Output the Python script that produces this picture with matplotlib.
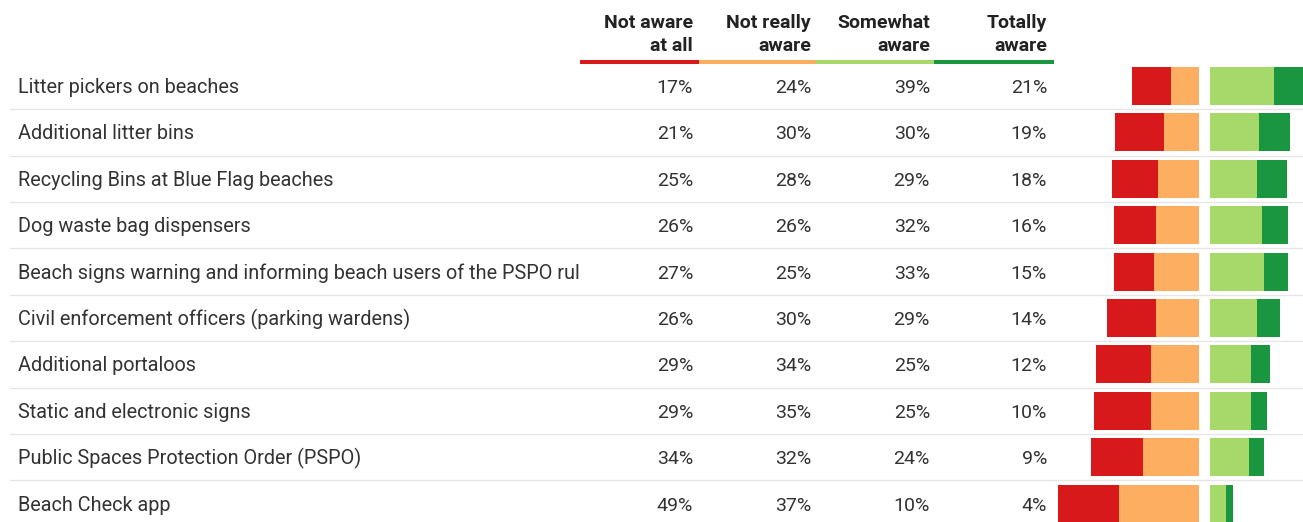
import matplotlib
matplotlib.use('Agg')
import matplotlib.pyplot as plt

plt.rcParams['font.family'] = ['Roboto', 'DejaVu Sans']

labels = [
    'Litter pickers on beaches',
    'Additional litter bins',
    'Recycling Bins at Blue Flag beaches',
    'Dog waste bag dispensers',
    'Beach signs warning and informing beach users of the PSPO rules',
    'Civil enforcement officers (parking wardens)',
    'Additional portaloos',
    'Static and electronic signs',
    'Public Spaces Protection Order (PSPO)',
    'Beach Check app',
]
headers = ['Not aware\nat all', 'Not really\naware', 'Somewhat\naware', 'Totally\naware']
not_aware = [17, 21, 25, 26, 27, 26, 29, 29, 34, 49]
not_really = [24, 30, 28, 26, 25, 30, 34, 35, 32, 37]
somewhat = [39, 30, 29, 32, 33, 29, 25, 25, 24, 10]
totally = [21, 19, 18, 16, 15, 14, 12, 10, 9, 4]

RED = '#d7191c'
ORANGE = '#fdae61'
LGREEN = '#a6d96a'
DGREEN = '#1a9641'

W, H = 1303, 522
ROW0, ROWH = 86, 46.4
PX_PER_PCT = 1.63
CENTER = 1198.5
GAP = 11.5 / PX_PER_PCT
FS = 14

fig = plt.figure(figsize=(W / 100, H / 100), dpi=100)
ax = fig.add_axes([0, 0, 1, 1])
ax.set_xlim(0, W)
ax.set_ylim(H, 0)
ax.axis('off')

n = len(labels)
rows = [ROW0 + i * ROWH for i in range(n)]

# row separators
for y in rows[:-1]:
    ax.plot([10, W], [y + ROWH / 2, y + ROWH / 2], color='#e6e6e6', lw=1, zorder=1)

# header with coloured underline
col_right = [693, 811, 930, 1047]
seg_edges = [580, 699, 816, 934, 1054]
for i, (h, c) in enumerate(zip(headers, [RED, ORANGE, LGREEN, DGREEN])):
    top, bottom = h.split('\n')
    ax.text(col_right[i], 28, top, ha='right', va='baseline', fontsize=FS,
            fontweight='bold', color='#222222')
    ax.text(col_right[i], 51, bottom, ha='right', va='baseline', fontsize=FS,
            fontweight='bold', color='#222222')
    ax.plot([seg_edges[i], seg_edges[i + 1]], [62, 62], color=c, lw=2.9,
            solid_capstyle='butt')

# percentages
for i, y in enumerate(rows):
    for x, vals in zip(col_right, [not_aware, not_really, somewhat, totally]):
        ax.text(x, y + 7, f'{vals[i]}%', ha='right', va='baseline',
                fontsize=FS, color='#333333')

# labels, clipped at the table column
lab_ax = fig.add_axes([0, 0, 579 / W, 1])
lab_ax.set_xlim(0, 579)
lab_ax.set_ylim(H, 0)
lab_ax.axis('off')
for lab, y in zip(labels, rows):
    lab_ax.text(18, y + 7, lab, ha='left', va='baseline', fontsize=14.3,
                color='#333333', clip_on=True)

# diverging bars
top_px = ROW0 - ROWH / 2
bot_px = ROW0 + (n - 0.5) * ROWH
bax = fig.add_axes([1050 / W, (H - bot_px) / H, (W - 1050) / W, (bot_px - top_px) / H])
bax.set_xlim(-(CENTER - 1050) / PX_PER_PCT, (W - CENTER) / PX_PER_PCT)
bax.set_ylim(n - 0.5, -0.5)
bax.axis('off')
idx = list(range(n))
bh = 38 / ROWH
neg_inner = [-v for v in not_aware]
neg_outer = [-(a + b) for a, b in zip(not_aware, not_really)]
bax.barh(idx, not_aware, left=neg_inner, height=bh, color=ORANGE, lw=0)
bax.barh(idx, not_really, left=neg_outer, height=bh, color=RED, lw=0)
bax.barh(idx, somewhat, left=GAP, height=bh, color=LGREEN, lw=0)
bax.barh(idx, totally, left=[GAP + s for s in somewhat], height=bh, color=DGREEN, lw=0)

fig.savefig('out.png', dpi=100)
